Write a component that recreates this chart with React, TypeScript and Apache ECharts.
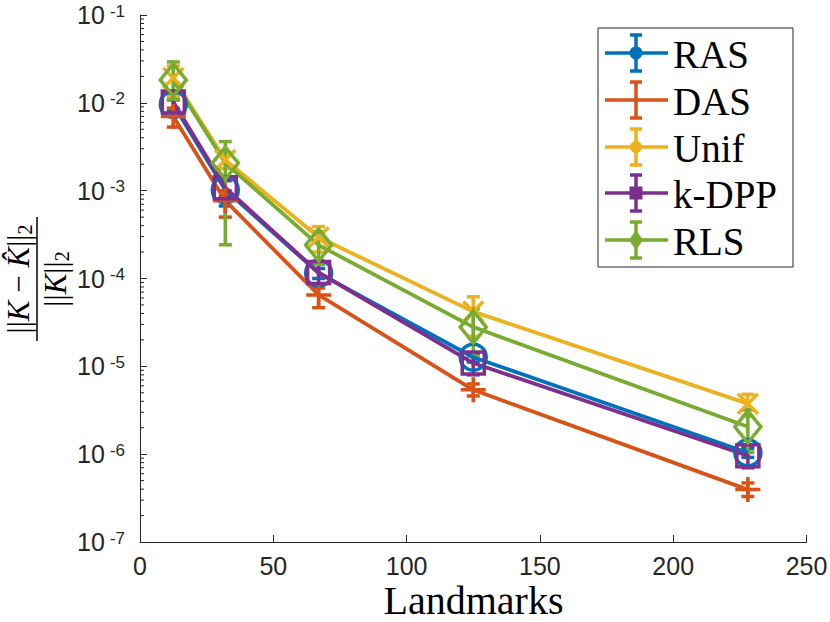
import React, { useEffect, useRef } from "react";
import * as echarts from "echarts";

// ---------- data ----------
const landmarks = [12.5, 32, 67, 125, 228];
const methodNames = ["RAS", "DAS", "Unif", "k-DPP", "RLS"];

const rasMean = [9.6e-3, 1.02e-3, 1.15e-4, 1.27e-5, 1.04e-6];
const rasLow = [8.4e-3, 6.7e-4, 1.0e-4, 1.12e-5, 9.2e-7];
const rasHigh = [1.08e-2, 1.37e-3, 1.3e-4, 1.42e-5, 1.16e-6];

const dasMean = [7.0e-3, 7.7e-4, 6.5e-5, 5.4e-6, 3.95e-7];
const dasLow = [5.3e-3, 5.0e-4, 4.65e-5, 4.6e-6, 3.3e-7];
const dasHigh = [8.7e-3, 1.0e-3, 7.8e-5, 6.3e-6, 4.7e-7];

const unifMean = [1.92e-2, 2.24e-3, 2.95e-4, 4.2e-5, 3.76e-6];
const unifLow = [1.2e-2, 1.78e-3, 2.0e-4, 2.2e-5, 2.7e-6];
const unifHigh = [2.63e-2, 2.7e-3, 3.9e-4, 6.2e-5, 4.8e-6];

const kdppMean = [1.02e-2, 1.08e-3, 1.17e-4, 1.09e-5, 9.6e-7];
const kdppLow = [7.8e-3, 8.6e-4, 8.6e-5, 8.0e-6, 7.0e-7];
const kdppHigh = [1.3e-2, 1.3e-3, 1.48e-4, 1.4e-5, 1.25e-6];

const rlsMean = [1.82e-2, 2.06e-3, 2.4e-4, 2.8e-5, 2.05e-6];
const rlsLow = [1.1e-2, 2.42e-4, 1.45e-4, 1.3e-5, 1.05e-6];
const rlsHigh = [2.92e-2, 3.62e-3, 3.4e-4, 4.5e-5, 3.2e-6];

const xTicks = [0, 50, 100, 150, 200, 250];
const yDecades = [1e-7, 1e-6, 1e-5, 1e-4, 1e-3, 1e-2, 1e-1];
const minorMultipliers = [2, 3, 4, 5, 6, 7, 8, 9];
const xAxisTitle = "Landmarks";

const colors = ["#0072BD", "#D95319", "#EDB120", "#7E2F8E", "#77AC30"];

const means = [rasMean, dasMean, unifMean, kdppMean, rlsMean];
const lows = [rasLow, dasLow, unifLow, kdppLow, rlsLow];
const highs = [rasHigh, dasHigh, unifHigh, kdppHigh, rlsHigh];

const fontSans = "'Liberation Sans', Arial, Helvetica, sans-serif";
const fontSerif = "'Liberation Serif', 'Times New Roman', serif";
const axisColor = "#262626";

const symbols: any[] = [
  "circle",
  "path://M5,0L5,10M0,5L10,5",
  "path://M0,0L10,10M10,0L0,10",
  "rect",
  "diamond",
];
const symbolSizes: any[] = [26, 25, 20, 22, [26, 32]];

function buildOption() {
  const series: any[] = [];

  // minor ticks on the log y axis
  const minorVals: number[] = [];
  yDecades.slice(0, -1).forEach((d) => {
    minorMultipliers.forEach((m) => minorVals.push(d * m));
  });
  series.push({
    type: "custom",
    silent: true,
    z: 1,
    data: minorVals.map((v) => [0, v]),
    encode: { x: 0, y: 1 },
    renderItem: (params: any, api: any) => {
      const p = api.coord([api.value(0), api.value(1)]);
      return {
        type: "line",
        shape: { x1: p[0], y1: p[1], x2: p[0] + 4, y2: p[1] },
        style: { stroke: axisColor, lineWidth: 1 },
      };
    },
  });

  methodNames.forEach((name, k) => {
    const c = colors[k];
    series.push({
      name,
      type: "line",
      data: landmarks.map((x, i) => [x, means[k][i]]),
      symbol: symbols[k],
      symbolSize: symbolSizes[k],
      showSymbol: true,
      clip: false,
      lineStyle: { color: c, width: 3.8 },
      itemStyle: { color: "rgba(0,0,0,0)", borderColor: c, borderWidth: 3.5 },
      z: 2,
    });
    series.push({
      name: name + " err",
      type: "custom",
      silent: true,
      z: 2,
      data: landmarks.map((x, i) => [x, lows[k][i], highs[k][i]]),
      encode: { x: 0, y: [1, 2] },
      renderItem: (params: any, api: any) => {
        const x = api.value(0);
        const lo = api.coord([x, api.value(1)]);
        const hi = api.coord([x, api.value(2)]);
        const hw = 6.5;
        const st = { stroke: c, lineWidth: 3.5 };
        return {
          type: "group",
          children: [
            { type: "line", shape: { x1: lo[0], y1: lo[1], x2: hi[0], y2: hi[1] }, style: st },
            { type: "line", shape: { x1: lo[0] - hw, y1: lo[1], x2: lo[0] + hw, y2: lo[1] }, style: st },
            { type: "line", shape: { x1: hi[0] - hw, y1: hi[1], x2: hi[0] + hw, y2: hi[1] }, style: st },
          ],
        };
      },
    });
  });

  // legend built with graphic elements
  const legX = 598;
  const legY = 28;
  const legW = 195;
  const legH = 239;
  const rowY = [53, 100, 147, 193, 240];
  const legendChildren: any[] = [
    {
      type: "rect",
      shape: { x: legX, y: legY, width: legW, height: legH },
      style: { fill: "#fff", stroke: axisColor, lineWidth: 1 },
    },
  ];
  methodNames.forEach((name, k) => {
    const c = colors[k];
    const cy = rowY[k];
    const cx = 636;
    const st = { stroke: c, lineWidth: 3.5, fill: "none" };
    legendChildren.push(
      { type: "line", shape: { x1: 605, y1: cy, x2: 668, y2: cy }, style: st },
      { type: "line", shape: { x1: cx, y1: cy - 18, x2: cx, y2: cy + 18 }, style: st },
      { type: "line", shape: { x1: cx - 6, y1: cy - 18, x2: cx + 6, y2: cy - 18 }, style: st },
      { type: "line", shape: { x1: cx - 6, y1: cy + 18, x2: cx + 6, y2: cy + 18 }, style: st }
    );
    if (k === 0) {
      legendChildren.push({ type: "circle", shape: { cx, cy, r: 5 }, style: { stroke: c, lineWidth: 3, fill: c } });
    } else if (k === 2) {
      legendChildren.push({ type: "circle", shape: { cx, cy, r: 5 }, style: { stroke: c, lineWidth: 2, fill: c } });
    } else if (k === 3) {
      legendChildren.push({ type: "rect", shape: { x: cx - 5, y: cy - 5, width: 10, height: 10 }, style: { stroke: c, lineWidth: 3, fill: c } });
    } else if (k === 4) {
      legendChildren.push({
        type: "polygon",
        shape: { points: [[cx, cy - 8], [cx + 6, cy], [cx, cy + 8], [cx - 6, cy]] },
        style: { fill: c, stroke: c, lineWidth: 2 },
      });
    }
    legendChildren.push({
      type: "text",
      x: 673,
      y: cy + 1,
      style: {
        text: name,
        fontFamily: fontSerif,
        fontSize: 39,
        fill: "#000",
        textAlign: "left",
        textVerticalAlign: "middle",
      },
    });
  });

  // y-axis label: fraction ||K - K^||_2 / ||K||_2 (rotated)
  const richLabel = {
    n: { fontFamily: fontSerif, fontSize: 31, lineHeight: 32, fill: "#000", verticalAlign: "top" },
    i: { fontFamily: fontSerif, fontStyle: "italic", fontSize: 31, lineHeight: 32, fill: "#000", verticalAlign: "top" },
    s: { fontFamily: fontSerif, fontSize: 20, lineHeight: 20, fill: "#000", verticalAlign: "bottom" },
  };
  const yLabel = {
    type: "group",
    x: 37,
    y: 279,
    rotation: Math.PI / 2,
    children: [
      {
        type: "line",
        shape: { x1: -62, y1: 0, x2: 62, y2: 0 },
        style: { stroke: "#000", lineWidth: 1.5 },
      },
      {
        type: "text",
        x: 0,
        y: -2,
        style: {
          text: "{n|||}{i|K}{n| − }{i|K\u0302}{n|||}{s|2}",
          textAlign: "center",
          textVerticalAlign: "bottom",
          rich: richLabel,
        },
      },
      {
        type: "text",
        x: 0,
        y: 3,
        style: {
          text: "{n|||}{i|K}{n|||}{s|2}",
          textAlign: "center",
          textVerticalAlign: "top",
          rich: richLabel,
        },
      },
    ],
  };

  const xTitle = {
    type: "text",
    x: 473.5,
    y: 600,
    style: {
      text: xAxisTitle,
      fontFamily: fontSerif,
      fontSize: 40,
      fill: "#000",
      textAlign: "center",
      textVerticalAlign: "middle",
    },
  };

  return {
    animation: false,
    backgroundColor: "#fff",
    grid: { left: 140, right: 23.5, top: 15, bottom: 80, containLabel: false, outerBoundsMode: "none" },
    xAxis: {
      type: "value",
      min: xTicks[0],
      max: xTicks[xTicks.length - 1],
      interval: xTicks[1] - xTicks[0],
      axisLine: { show: true, lineStyle: { color: axisColor, width: 1 } },
      axisTick: { show: true, inside: true, length: 7, lineStyle: { color: axisColor, width: 1 } },
      axisLabel: {
        fontFamily: fontSans,
        fontSize: 25,
        lineHeight: 22,
        color: axisColor,
        margin: 13,
        showMinLabel: true,
        showMaxLabel: true,
      },
      splitLine: { show: false },
    },
    yAxis: {
      type: "log",
      logBase: 10,
      min: yDecades[0],
      max: yDecades[yDecades.length - 1],
      splitNumber: 6,
      axisLine: { show: true, lineStyle: { color: axisColor, width: 1 } },
      axisTick: { show: true, inside: true, length: 7, lineStyle: { color: axisColor, width: 1 } },
      minorTick: { show: false },
      splitLine: { show: false },
      axisLabel: {
        margin: 15,
        showMinLabel: true,
        showMaxLabel: true,
        formatter: (v: number) => {
          const e = Math.round(Math.log10(v));
          return "{b|10}{s|" + e + "}";
        },
        rich: {
          b: { fontFamily: fontSans, fontSize: 25, lineHeight: 25, color: axisColor, verticalAlign: "bottom", padding: [6, 0, 0, 0] },
          s: { fontFamily: fontSans, fontSize: 17, lineHeight: 17, color: axisColor, verticalAlign: "top", padding: [0, 0, 0, 5] },
        },
      },
    },
    series,
    graphic: [
      { type: "group", children: legendChildren },
      yLabel,
      xTitle,
    ],
  };
}

export default function App() {
  const ref = useRef<HTMLDivElement>(null);
  useEffect(() => {
    if (!ref.current) return;
    const chart = echarts.init(ref.current, null, { renderer: "svg" });
    chart.setOption(buildOption() as any);
    return () => chart.dispose();
  }, []);
  return (
    <div
      ref={ref}
      style={{ position: "absolute", left: 0, top: 0, width: 830, height: 622, background: "#fff" }}
    />
  );
}
